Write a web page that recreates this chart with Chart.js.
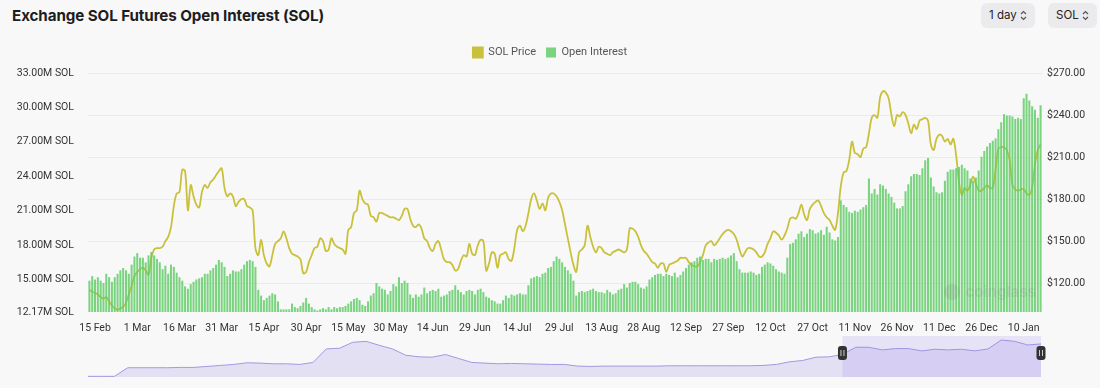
<!DOCTYPE html>
<html>
<head>
<meta charset="utf-8">
<script src="https://cdn.jsdelivr.net/npm/chart.js@4.4.1/dist/chart.umd.min.js"></script>
<style>
  html, body { margin: 0; padding: 0; background: #f8f8f8; }
  body { width: 1100px; height: 388px; position: relative; overflow: hidden; font-family: Inter, "Noto Sans", sans-serif; }
  h1 { position: absolute; left: 12px; top: 3px; margin: 0; font-size: 15.2px; font-weight: 700; color: #1d1d1f; line-height: 26px; letter-spacing: -0.1px; }
  .pick { position: absolute; top: 3px; height: 25px; background: #ebebee; border-radius: 6px; font-size: 11.5px; color: #222; line-height: 25px; box-sizing: border-box; padding-left: 8px; }
  .pick svg { position: absolute; right: 8px; top: 7px; }
  #main { position: absolute; left: 0; top: 34px; }
  #nav { position: absolute; left: 0; top: 336px; }
</style>
</head>
<body>
<h1>Exchange SOL Futures Open Interest (SOL)</h1>
<div class="pick" style="left:981px;width:54px;">1 day<svg width="7" height="11" viewBox="0 0 7 11"><path d="M1 4 L3.5 1.5 L6 4 M1 7 L3.5 9.5 L6 7" fill="none" stroke="#555" stroke-width="1.2"/></svg></div>
<div class="pick" style="left:1048px;width:49px;">SOL<svg width="7" height="11" viewBox="0 0 7 11"><path d="M1 4 L3.5 1.5 L6 4 M1 7 L3.5 9.5 L6 7" fill="none" stroke="#555" stroke-width="1.2"/></svg></div>
<canvas id="main" width="1100" height="302"></canvas>
<canvas id="nav" width="1100" height="44"></canvas>
<script>
// daily values from 13 Feb 2024 to 16 Jan 2025
const oiValues = [
  14.9, 15.3, 15.0, 15.2, 14.9, 14.7, 15.5, 15.2, 14.8, 15.2,
  15.5, 15.8, 16.0, 15.8, 15.5, 16.3, 17.0, 17.3, 16.9, 16.9,
  16.5, 17.1, 17.4, 17.1, 16.8, 16.5, 15.9, 16.2, 15.5, 16.3,
  16.1, 15.6, 15.2, 14.9, 14.4, 14.2, 14.6, 14.8, 15.0, 15.1,
  15.2, 15.5, 15.5, 15.8, 16.0, 16.3, 16.7, 16.5, 16.1, 15.3,
  15.5, 15.8, 15.7, 15.7, 15.9, 16.3, 16.6, 16.7, 16.6, 16.1,
  14.1, 13.6, 13.2, 13.4, 13.6, 13.8, 13.7, 13.1, 12.4, 12.4,
  12.4, 12.4, 12.9, 12.6, 12.5, 12.7, 13.0, 13.4, 12.9, 12.6,
  12.4, 12.3, 12.4, 12.5, 12.4, 12.6, 12.4, 12.6, 12.5, 12.6,
  12.6, 12.7, 12.9, 13.1, 13.3, 13.4, 13.2, 12.8, 12.7, 13.1,
  13.6, 13.8, 14.7, 14.4, 14.2, 14.1, 13.7, 14.0, 14.6, 14.4,
  15.2, 14.7, 14.9, 14.7, 13.7, 13.4, 13.7, 13.5, 13.7, 14.3,
  13.8, 14.0, 14.1, 14.0, 14.2, 13.5, 13.6, 13.7, 14.0, 14.1,
  14.5, 14.1, 13.9, 13.7, 14.0, 14.1, 14.0, 13.7, 14.1, 14.2,
  13.9, 13.5, 13.4, 13.2, 13.1, 12.9, 12.9, 13.2, 13.6, 13.4,
  13.7, 13.6, 13.7, 13.8, 13.7, 13.7, 14.5, 15.1, 15.2, 15.3,
  15.2, 15.5, 15.6, 16.0, 16.1, 16.6, 17.0, 16.8, 16.5, 16.1,
  15.8, 15.5, 14.9, 13.6, 13.9, 14.0, 13.9, 14.0, 14.1, 14.2,
  14.0, 13.9, 13.9, 13.8, 14.1, 13.9, 13.7, 13.8, 14.1, 14.2,
  14.6, 14.3, 14.7, 14.8, 14.8, 14.6, 14.3, 14.2, 14.4, 15.0,
  15.2, 15.4, 15.5, 15.5, 15.3, 15.5, 15.4, 15.3, 15.6, 15.2,
  15.4, 15.7, 16.0, 16.3, 16.5, 16.6, 16.9, 17.0, 16.7, 16.8,
  16.8, 16.5, 16.8, 16.7, 16.8, 16.9, 16.8, 16.9, 17.1, 17.3,
  16.6, 15.9, 15.6, 15.6, 15.6, 15.7, 15.6, 15.4, 15.5, 16.1,
  16.3, 16.5, 16.4, 16.2, 15.9, 15.7, 15.6, 15.5, 16.9, 18.1,
  18.2, 18.5, 19.0, 19.2, 18.7, 19.0, 19.4, 19.3, 19.0, 19.1,
  19.3, 18.9, 19.6, 19.1, 18.5, 18.4, 18.7, 21.9, 21.5, 21.3,
  20.9, 20.8, 21.0, 20.9, 21.1, 21.3, 21.5, 23.8, 22.5, 22.9,
  22.4, 23.3, 23.2, 22.9, 22.5, 22.2, 21.7, 21.2, 21.2, 21.4,
  22.7, 23.3, 24.0, 24.2, 24.2, 24.1, 24.7, 25.4, 25.6, 23.9,
  23.1, 22.6, 22.5, 22.6, 23.6, 24.4, 24.6, 24.6, 24.7, 24.8,
  25.0, 24.7, 24.5, 23.8, 23.6, 23.9, 24.5, 25.7, 26.2, 26.6,
  26.9, 27.1, 27.3, 28.1, 28.7, 29.4, 29.3, 29.3, 29.2, 29.0,
  29.1, 29.0, 30.8, 31.2, 30.6, 30.1, 29.8, 29.1, 30.2
];

const priceValues = [
  115, 114, 113, 112, 110, 109, 110, 107, 104, 102,
  101, 102, 103, 106, 112, 118, 125, 128, 130, 131,
  129, 126, 138, 144, 145, 145, 146, 150, 153, 160,
  175, 184, 185, 201, 200, 172, 190, 182, 176, 174,
  185, 190, 188, 192, 194, 197, 200, 202, 188, 182,
  184, 182, 175, 178, 180, 180, 175, 174, 172, 145,
  140, 151, 140, 134, 132, 140, 148, 150, 152, 157,
  152, 145, 141, 140, 139, 137, 127, 128, 135, 140,
  145, 146, 152, 150, 143, 144, 152, 148, 146, 145,
  144, 141, 158, 160, 170, 172, 186, 180, 177, 176,
  168, 167, 164, 170, 170, 169, 168, 167, 167, 166,
  165, 168, 173, 173, 166, 161, 160, 162, 159, 152,
  150, 145, 143, 148, 150, 144, 137, 135, 135, 133,
  129, 130, 136, 140, 139, 148, 141, 140, 147, 151,
  150, 129, 134, 142, 141, 131, 140, 141, 142, 137,
  136, 145, 158, 161, 157, 161, 170, 180, 184, 179,
  173, 177, 172, 181, 184, 184, 182, 178, 172, 162,
  152, 142, 133, 128, 142, 144, 147, 161, 153, 146,
  142, 146, 145, 142, 141, 140, 142, 143, 144, 143,
  142, 144, 159, 159, 157, 153, 147, 143, 141, 138,
  135, 134, 131, 134, 134, 128, 133, 134, 135, 136,
  138, 138, 138, 135, 133, 132, 132, 135, 140, 147,
  149, 150, 147, 149, 152, 155, 157, 158, 157, 155,
  151, 144, 139, 142, 145, 145, 144, 142, 139, 139,
  142, 148, 152, 157, 156, 154, 151, 154, 159, 166,
  167, 166, 170, 176, 169, 165, 173, 176, 178, 179,
  175, 170, 167, 165, 161, 158, 170, 189, 199, 200,
  208, 221, 213, 212, 210, 216, 217, 227, 238, 240,
  238, 253, 257, 256, 252, 240, 232, 240, 239, 242,
  240, 234, 227, 233, 230, 236, 237, 238, 236, 219,
  215, 223, 226, 225, 221, 223, 219, 223, 211, 192,
  183, 188, 186, 190, 196, 191, 186, 186, 188, 190,
  188, 188, 201, 216, 217, 217, 215, 208, 190, 187,
  186, 187, 187, 184, 183, 188, 205, 215, 219
];

const oiTicks = [12.17, 15, 18, 21, 24, 27, 30, 33];
const priceTicks = [120, 150, 180, 210, 240, 270];
const monthNames = ['Jan', 'Feb', 'Mar', 'Apr', 'May', 'Jun', 'Jul', 'Aug', 'Sep', 'Oct', 'Nov', 'Dec'];

// overview strip below the chart (whole history, relative units)
const navValues = [
  2, 2, 2, 28, 28, 28, 28, 29, 29, 32,
  35, 38, 43, 42, 40, 40, 38, 44, 85, 87,
  105, 108, 96, 85, 66, 61, 60, 68, 56, 44,
  42, 40, 41, 40, 39, 38, 38, 33, 32, 33,
  33, 33, 33, 33, 34, 34, 34, 34, 34, 34,
  34, 35, 38, 46, 50, 60, 61, 68, 90, 90,
  82, 86, 86, 79, 84, 82, 84, 79, 85, 112,
  108, 97, 100
];
const navWindow = [57, 72];

const startDay = Date.UTC(2024, 1, 13);
const dayLabels = oiValues.map((_, i) => {
  const d = new Date(startDay + i * 86400000);
  return d.getUTCDate() + ' ' + monthNames[d.getUTCMonth()];
});

const tickFont = { family: 'Roboto, "Noto Sans", sans-serif', size: 10.5 };

const legendSpacer = {
  id: 'legendSpacer',
  beforeInit(chart) {
    const fit = chart.legend.fit;
    chart.legend.fit = function () {
      fit.bind(chart.legend)();
      this.height = 36;
    };
  }
};

const watermark = {
  id: 'watermark',
  afterDatasetsDraw(chart) {
    const { ctx, chartArea } = chart;
    ctx.save();
    ctx.font = 'bold 15px Inter, sans-serif';
    ctx.fillStyle = 'rgba(120,120,120,0.16)';
    ctx.textAlign = 'right';
    ctx.textBaseline = 'middle';
    ctx.fillText('coinglass', chartArea.right - 6, chartArea.bottom - 20);
    ctx.beginPath();
    ctx.arc(chartArea.right - 90, chartArea.bottom - 20, 8, 0, Math.PI * 2);
    ctx.fill();
    ctx.restore();
  }
};

new Chart(document.getElementById('main'), {
  type: 'bar',
  data: {
    labels: dayLabels,
    datasets: [
      {
        type: 'line',
        label: 'SOL Price',
        data: priceValues,
        yAxisID: 'yPrice',
        borderColor: '#c9c13b',
        backgroundColor: '#c9c13b',
        borderWidth: 1.8,
        pointRadius: 0,
        tension: 0.35,
        order: 2
      },
      {
        label: 'Open Interest',
        data: oiValues,
        yAxisID: 'yOi',
        backgroundColor: 'rgba(96, 204, 104, 0.84)',
        barPercentage: 0.72,
        categoryPercentage: 1,
        order: 1
      }
    ]
  },
  options: {
    responsive: false,
    animation: false,
    devicePixelRatio: 1,
    layout: { padding: { top: 3 } },
    plugins: {
      legend: {
        labels: {
          boxWidth: 10,
          boxHeight: 10,
          padding: 10,
          color: '#555',
          font: { family: 'Roboto, "Noto Sans", sans-serif', size: 11 },
          sort: (a, b) => a.datasetIndex - b.datasetIndex
        }
      },
      tooltip: { enabled: false }
    },
    scales: {
      x: {
        grid: { display: false },
        border: { display: false },
        ticks: {
          autoSkip: false,
          maxRotation: 0,
          color: '#333',
          font: tickFont,
          padding: 2,
          callback(value, index) {
            return (index - 2) % 15 === 0 ? this.getLabelForValue(value) : null;
          }
        },
        afterFit(scale) { scale.height = 24; }
      },
      yOi: {
        position: 'left',
        min: 12.17,
        max: 33,
        grid: { display: false },
        border: { display: false },
        afterBuildTicks(scale) { scale.ticks = oiTicks.map(v => ({ value: v })); },
        ticks: {
          color: '#333',
          font: tickFont,
          padding: 6,
          callback: v => v.toFixed(2) + 'M SOL'
        },
        afterFit(scale) { scale.width = 88; }
      },
      yPrice: {
        position: 'right',
        min: 99.4,
        max: 270,
        grid: { color: '#ebebeb', drawTicks: false },
        border: { display: false },
        afterBuildTicks(scale) { scale.ticks = priceTicks.map(v => ({ value: v })); },
        ticks: {
          color: '#333',
          font: tickFont,
          padding: 5,
          callback: v => '$' + v.toFixed(2)
        },
        afterFit(scale) { scale.width = 58; }
      }
    }
  },
  plugins: [legendSpacer, watermark]
});

const navWindowBox = {
  id: 'navWindowBox',
  afterDatasetsDraw(chart) {
    const { ctx, chartArea } = chart;
    const xs = chart.scales.x;
    const x0 = xs.getPixelForValue(navWindow[0]);
    const x1 = xs.getPixelForValue(navWindow[1]);
    ctx.save();
    ctx.fillStyle = 'rgba(150, 125, 235, 0.17)';
    ctx.fillRect(x0, chartArea.top - 3, x1 - x0, chartArea.bottom - chartArea.top + 3);
    const mid = chartArea.top + 14;
    [x0, x1].forEach(x => {
      ctx.fillStyle = '#333';
      ctx.beginPath();
      ctx.roundRect(x - 4.5, mid - 7, 9, 14, 3);
      ctx.fill();
      ctx.strokeStyle = '#ccc';
      ctx.lineWidth = 1;
      ctx.beginPath();
      ctx.moveTo(x - 1.5, mid - 3); ctx.lineTo(x - 1.5, mid + 3);
      ctx.moveTo(x + 1.5, mid - 3); ctx.lineTo(x + 1.5, mid + 3);
      ctx.stroke();
    });
    ctx.restore();
  }
};

new Chart(document.getElementById('nav'), {
  type: 'line',
  data: {
    labels: navValues.map((_, i) => i),
    datasets: [{
      data: navValues,
      fill: 'origin',
      borderColor: '#a597e0',
      backgroundColor: 'rgba(175, 160, 235, 0.28)',
      borderWidth: 1,
      pointRadius: 0,
      tension: 0
    }]
  },
  options: {
    responsive: false,
    animation: false,
    devicePixelRatio: 1,
    layout: { padding: { left: 88, right: 59, top: 3, bottom: 3 } },
    plugins: { legend: { display: false }, tooltip: { enabled: false } },
    scales: {
      x: { display: false },
      y: { display: false, min: 0, max: 115 }
    }
  },
  plugins: [navWindowBox]
});
</script>
</body>
</html>
